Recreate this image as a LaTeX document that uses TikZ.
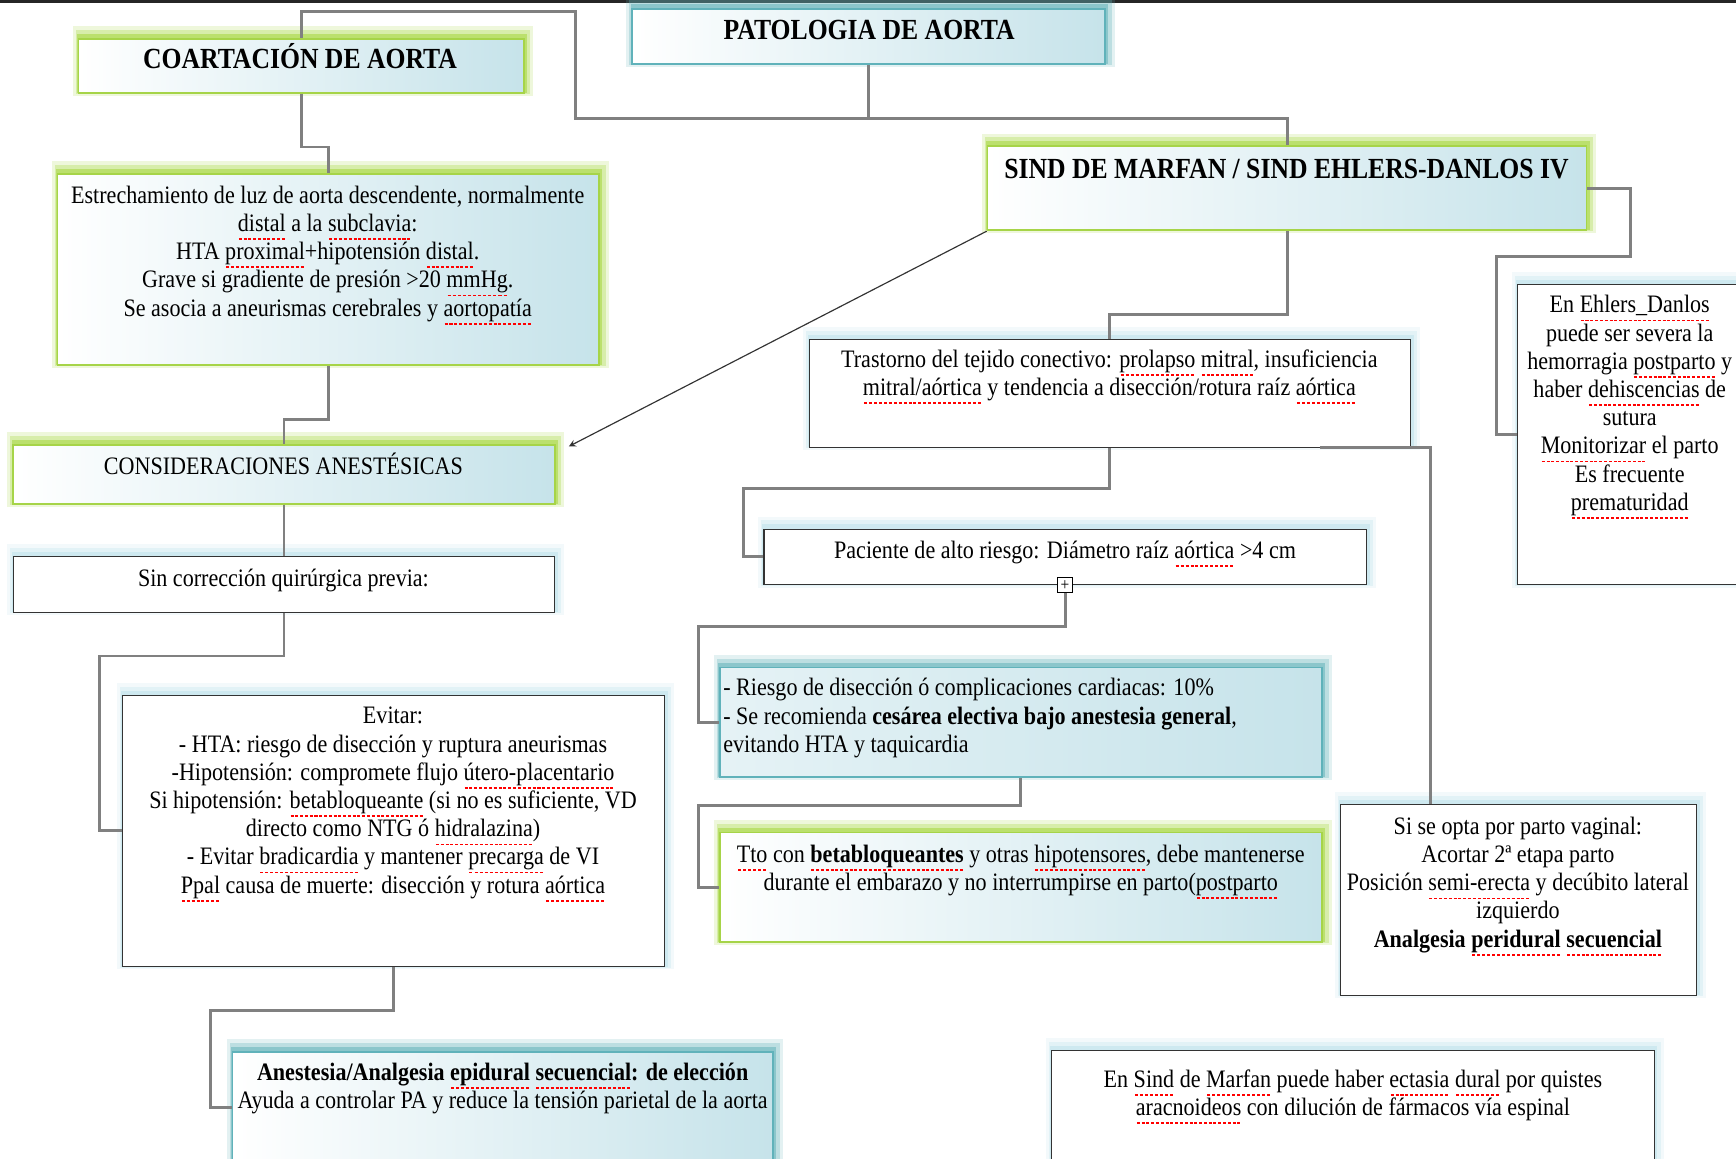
\documentclass[tikz,border=0pt]{standalone}
\usepackage{fontspec}
\setmainfont{Liberation Serif}[FakeStretch=0.88]
\usepackage{tikz}
\usetikzlibrary{fit}
\definecolor{boxblue}{RGB}{198,227,234}
\definecolor{leafgreen}{RGB}{166,212,72}
\definecolor{glowgreen}{RGB}{165,214,60}
\definecolor{tealline}{RGB}{96,178,186}
\definecolor{tealglow}{RGB}{100,180,186}
\definecolor{paleblue}{RGB}{190,226,236}
\definecolor{linegray}{RGB}{128,128,128}
\newcommand{\txtfont}{\fontsize{12.9}{14.5}\selectfont}
\newcommand{\hdfont}{\fontsize{15}{17}\selectfont\bfseries}
% red spell-check squiggle
\newsavebox{\sqbox}
\newcommand{\sq}[1]{\sbox{\sqbox}{#1}\rlap{\raisebox{-0.34em}{\color{red}\hbox to\wd\sqbox{\xleaders\hbox{\kern0.035em\rule{0.12em}{0.07em}\kern0.035em}\hfill}}}#1}

\begin{document}
\begin{tikzpicture}[x=0.02cm, y=-0.02cm]
    \tikzstyle{glow} = [preaction={draw=#1, line width=8pt, opacity=0.18, transform canvas={xshift=1pt, yshift=2.5pt}},
        preaction={draw=#1, line width=5pt, opacity=0.3, transform canvas={xshift=1pt, yshift=2pt}},
        preaction={draw=#1, line width=2.5pt, opacity=0.55, transform canvas={xshift=0.5pt, yshift=1.2pt}}]
    \tikzstyle{greenbox} = [rectangle, inner sep=0pt, glow=glowgreen, draw=leafgreen, line width=0.9pt, left color=white, right color=boxblue]
    \tikzstyle{tealbox} = [rectangle, inner sep=0pt, glow=tealglow, draw=tealline, line width=0.9pt, left color=white, right color=boxblue]
    \tikzstyle{whitebox} = [rectangle, inner sep=0pt, glow=paleblue, draw=black!80, line width=0.6pt, fill=white]
    \tikzstyle{txt} = [inner sep=0pt, align=center, font=\txtfont]
    \tikzstyle{hd} = [inner sep=0pt, font=\hdfont]
    \tikzstyle{conn} = [draw=linegray, line width=1.5pt]

    \useasboundingbox (0,0) rectangle (1568,1046);
    \fill [white] (0,0) rectangle (1568,1046);
    \fill [black!85] (0,0) rectangle (1568,3);

    % Titles
    \node [tealbox, fit={(571,8) (998,58)}] (pat) {};
    \node [hd, anchor=base] (patT) at (785,36) {PATOLOGIA DE AORTA};
    \node [greenbox, fit={(71,35) (473,84)}] (coar) {};
    \node [hd, anchor=base] (coarT) at (271,62) {COARTACIÓN DE AORTA};
    \node [greenbox, fit={(892,132) (1433,208)}] (sind) {};
    \node [hd, anchor=base] (sindT) at (1162,161) {SIND DE MARFAN / SIND EHLERS-DANLOS IV};

    % Coartacion branch
    \node [greenbox, fit={(52,157) (541,330)}] (est) {};
    \node [txt, anchor=north] (estT) at (296,167.5) {Estrechamiento de luz de aorta descendente, normalmente\\
        \sq{distal} a la \sq{subclavia}:\\
        HTA \sq{proximal}+hipotensión \sq{distal}.\\
        Grave si gradiente de presión >20 \sq{mmHg}.\\
        Se asocia a aneurismas cerebrales y \sq{aortopatía}};
    \node [greenbox, fit={(12,402) (501,455)}] (cons) {};
    \node [txt, anchor=base] (consT) at (256,429) {CONSIDERACIONES ANESTÉSICAS};
    \node [whitebox, fit={(12,503) (501,553)}] (sin) {};
    \node [txt, anchor=north] (sinT) at (256,513.5) {Sin corrección quirúrgica previa:};
    \node [whitebox, fit={(111,628) (600,873)}] (evi) {};
    \node [txt, anchor=north] (eviT) at (355,638.5) {Evitar:\\
        - HTA: riesgo de disección y ruptura aneurismas\\
        -Hipotensión: compromete flujo \sq{útero-placentario}\\
        Si hipotensión: \sq{betabloqueante} (si no es suficiente, VD\\
        directo como NTG ó \sq{hidralazina})\\
        - Evitar \sq{bradicardia} y mantener \sq{precarga} de VI\\
        \sq{Ppal} causa de muerte: disección y rotura \sq{aórtica}};
    \node [tealbox, fit={(210,950) (698,1050)}] (ane) {};
    \node [txt, anchor=north] (aneT) at (454,959.5) {\textbf{Anestesia/Analgesia \sq{epidural} \sq{secuencial}: de elección}\\
        Ayuda a controlar PA y reduce la tensión parietal de la aorta};

    % Marfan branch
    \node [whitebox, fit={(731,307) (1274,404)}] (tra) {};
    \node [txt, anchor=north] (traT) at (1002,315.5) {Trastorno del tejido conectivo: \sq{prolapso} \sq{mitral}, insuficiencia\\
        \sq{mitral/aórtica} y tendencia a disección/rotura raíz \sq{aórtica}};
    \node [whitebox, fit={(690,478) (1234,528)}] (pac) {};
    \node [txt, anchor=north] (pacT) at (962,488.5) {Paciente de alto riesgo: Diámetro raíz \sq{aórtica} >4 cm};
    \node [draw, fill=white, line width=0.5pt, inner sep=0pt, minimum size=7.5pt, font=\fontsize{9}{9}\selectfont] (plus) at (pac.south) {+};
    \node [tealbox, fit={(650,603) (1194,702)}, left color=boxblue!45] (rie) {};
    \node [txt, align=left, anchor=north west] (rieT) at (653,612.5) {- Riesgo de disección ó complicaciones cardiacas: 10\%\\
        - Se recomienda \textbf{cesárea electiva bajo anestesia general},\\
        evitando HTA y taquicardia};
    \node [greenbox, fit={(650,752) (1194,851)}] (tto) {};
    \node [txt, anchor=north] (ttoT) at (922,762.5) {\sq{Tto} con \textbf{\sq{betabloqueantes}} y otras \sq{hipotensores}, debe mantenerse\\
        durante el embarazo y no interrumpirse en parto(\sq{postparto}};
    \node [whitebox, fit={(1371,257) (1573,528)}] (ehl) {};
    \node [txt, anchor=north] (ehlT) at (1472,266.5) {En \sq{Ehlers\_Danlos}\\
        puede ser severa la\\
        hemorragia \sq{postparto} y\\
        haber \sq{dehiscencias} de\\
        sutura\\
        \sq{Monitorizar} el parto\\
        Es frecuente\\
        \sq{prematuridad}};
    \node [whitebox, fit={(1211,727) (1532,899)}] (si) {};
    \node [txt, anchor=north] (siT) at (1371,737.5) {Si se opta por parto vaginal:\\
        Acortar 2ª etapa parto\\
        Posición \sq{semi-erecta} y decúbito lateral\\
        izquierdo\\
        \textbf{Analgesia \sq{peridural} \sq{secuencial}}};
    \node [whitebox, fit={(950,949) (1494,1050)}] (msd) {};
    \node [txt, anchor=north] (msdT) at (1222,965.5) {En \sq{Sind} de \sq{Marfan} puede haber \sq{ectasia} \sq{dural} por quistes\\
        \sq{aracnoideos} con dilución de fármacos vía espinal};

    % Connections
    \coordinate (bus) at (520,107);
    \draw [conn] (coar.north) |- (520,10) -- (bus) -| (sind.north);
    \draw [conn] (pat.south) -- (pat.south |- bus);
    \draw [conn] (coar.south) -- ++(0,48) -| (est.north);
    \draw [conn] (est.south) -- ++(0,48) -| (cons.north);
    \draw [conn] (cons.south) -- (sin.north);
    \draw [conn] (sin.south) -- ++(0,39) -| ([xshift=-0.42cm]evi.west) -- (evi.west);
    \draw [conn] (evi.south) -- ++(0,39) -| ([xshift=-0.38cm]ane.west) -- (ane.west);
    \draw [conn] (sind.south) -- ++(0,75) -| (tra.north);
    \draw [conn] (tra.south) -- ++(0,37) -| ([xshift=-0.36cm]pac.west) -- (pac.west);
    \draw [conn] (plus.south) -- ++(0,30) -| ([xshift=-0.36cm]rie.west) -- (rie.west);
    \draw [conn] (rie.south) -- ++(0,25) -| ([xshift=-0.36cm]tto.west) -- (tto.west);
    \draw [conn] ([xshift=-1.64cm]tra.south east) -| ([xshift=-1.59cm]si.north);
    \draw [conn] (sind.east) -- ++(39,0) -- ++(0,62) -| ([xshift=-0.38cm]ehl.west) -- (ehl.west);
    \draw [->, >=stealth, line width=0.6pt, black!80] (sind.south west) -- ([xshift=0.24cm, yshift=-0.04cm]cons.north east);
\end{tikzpicture}
\end{document}
